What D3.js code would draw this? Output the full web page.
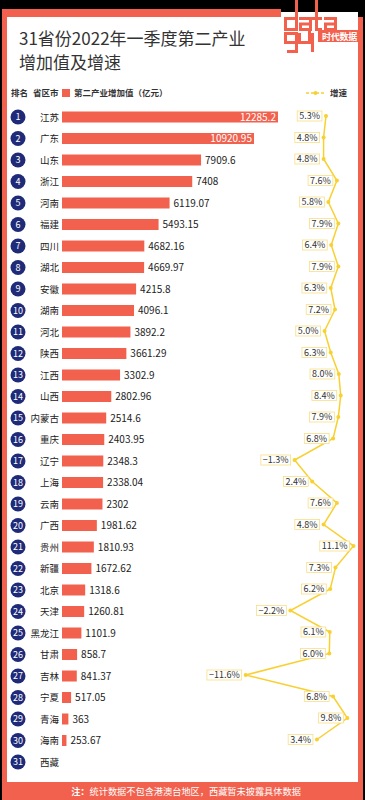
<!DOCTYPE html>
<html><head><meta charset="utf-8">
<script src="https://cdn.jsdelivr.net/npm/d3@7/dist/d3.min.js"></script>
<style>body{margin:0;background:#000}svg{display:block}text{font-family:"Noto Sans CJK SC","Noto Sans",sans-serif}</style>
</head><body>
<script>
const ranks = d3.range(1, 32);
const provinces = ["江苏","广东","山东","浙江","河南","福建","四川","湖北","安徽","湖南","河北","陕西","江西","山西","内蒙古","重庆","辽宁","上海","云南","广西","贵州","新疆","北京","天津","黑龙江","甘肃","吉林","宁夏","青海","海南","西藏"];
const values = [12285.2,10920.95,7909.6,7408,6119.07,5493.15,4682.16,4669.97,4215.8,4096.1,3892.2,3661.29,3302.9,2802.96,2514.6,2403.95,2348.3,2338.04,2302,1981.62,1810.93,1672.62,1318.6,1260.81,1101.9,858.7,841.37,517.05,363,253.67,null];
const valueLabels = ["12285.2","10920.95","7909.6","7408","6119.07","5493.15","4682.16","4669.97","4215.8","4096.1","3892.2","3661.29","3302.9","2802.96","2514.6","2403.95","2348.3","2338.04","2302","1981.62","1810.93","1672.62","1318.6","1260.81","1101.9","858.7","841.37","517.05","363","253.67",""];
const growth = [5.3,4.8,4.8,7.6,5.8,7.9,6.4,7.9,6.3,7.2,5.0,6.3,8.0,8.4,7.9,6.8,-1.3,2.4,7.6,4.8,11.1,7.3,6.2,-2.2,6.1,6.0,-11.6,6.8,9.8,3.4,null];
const titleLines = ["31省份2022年一季度第二产业","增加值及增速"];
const footnote = ["注：","统计数据不包含港澳台地区，西藏暂未披露具体数据"];

const W = 365, H = 800;
const coral = "#f1614d", navy = "#1f2b78", yellow = "#f8d030";

const svg = d3.select("body").append("svg").attr("width", W).attr("height", H);

// frame
svg.append("rect").attr("width", W).attr("height", H).attr("fill", "#000");
svg.append("rect").attr("x", 2).attr("y", 9).attr("width", 361).attr("height", 791).attr("fill", coral);
svg.append("rect").attr("x", 7).attr("y", 17).attr("width", 351).attr("height", 765).attr("fill", "#fff");

// logo
svg.append("rect").attr("x", 281).attr("y", 9).attr("width", 84).attr("height", 8).attr("fill", "#000");
svg.append("rect").attr("x", 281).attr("y", 12).attr("width", 77).attr("height", 44).attr("fill", "#fff");
const logo = svg.append("g").attr("fill", "none").attr("stroke", coral).attr("stroke-width", 3);
logo.append("path").attr("d", "M284,18.5 H296 M285.5,18 V29.5 H296 M296.5,0 V31");
logo.append("path").attr("d", "M299,18.5 H310.5 V29.5 H300.5 V24 H310");
logo.append("path").attr("d", "M316.5,0 V29.5 H322 M311,18.5 H322");
logo.append("path").attr("d", "M324,18.5 H335.5 V29.5 H325.5 V24 H335");
logo.append("path").attr("d", "M285.5,33 V42.5 H296 M284,33.5 H296.5 V51.5 H287");
logo.append("path").attr("d", "M299.5,33 V42.5 H309.5 M309.5,30 V44");
logo.append("path").attr("d", "M312.5,33 V52");
svg.append("rect").attr("x", 318).attr("y", 30).attr("width", 43).attr("height", 12).attr("fill", coral);
svg.append("text").attr("x", 339.5).attr("y", 39.5).attr("text-anchor", "middle").attr("fill", "#fff")
  .attr("font-size", 9).attr("font-weight", 700).attr("letter-spacing", -0.3).text("时代数据");

// title
svg.append("g").selectAll("text").data(titleLines).join("text")
  .attr("font-size", 17).attr("fill", "#333")
  .attr("x", 19).attr("y", (d, i) => 44.5 + i * 24.8).text(d => d);

// legend
const lg = svg.append("g").attr("font-size", 8.5).attr("font-weight", 700).attr("fill", "#333");
lg.append("text").attr("x", 11).attr("y", 96).text("排名");
lg.append("text").attr("x", 33).attr("y", 96).text("省区市");
lg.append("rect").attr("x", 62).attr("y", 89).attr("width", 8).attr("height", 8).attr("fill", coral);
lg.append("text").attr("x", 74).attr("y", 96).text("第二产业增加值（亿元）");
lg.append("line").attr("x1", 306).attr("x2", 325).attr("y1", 93).attr("y2", 93)
  .attr("stroke", yellow).attr("stroke-width", 1.5).attr("stroke-dasharray", "3,2");
lg.append("circle").attr("cx", 315.5).attr("cy", 93).attr("r", 2).attr("fill", yellow);
lg.append("text").attr("x", 330).attr("y", 96).text("增速");

// scales
const y = d3.scalePoint().domain(provinces).range([117, 762]);
const x = d3.scaleLinear().domain([0, 13000]).range([62, 62 + 13000 * 0.01758]);
const gx = d3.scaleLinear().domain([-12, 12]).range([243.8, 357.8]);

const rows = provinces.map((p, i) => ({p, i, rank: ranks[i], v: values[i], lab: valueLabels[i], g: growth[i]}));

// rank circles
const rk = svg.append("g");
rk.selectAll("circle").data(rows).join("circle")
  .attr("cx", 18).attr("cy", d => y(d.p)).attr("r", 7.5).attr("fill", navy);
rk.selectAll("text").data(rows).join("text")
  .attr("x", 18).attr("y", d => y(d.p) + 3.2).attr("text-anchor", "middle")
  .attr("fill", "#fff").attr("font-size", 9).text(d => d.rank);

// names
svg.append("g").selectAll("text").data(rows).join("text")
  .attr("x", 59).attr("y", d => y(d.p) + 3.5).attr("text-anchor", "end")
  .attr("font-size", 9.5).attr("fill", "#222").text(d => d.p);

// bars
const bv = rows.filter(d => d.v != null);
svg.append("g").selectAll("rect").data(bv).join("rect")
  .attr("x", x(0)).attr("y", d => y(d.p) - 5.5).attr("height", 11)
  .attr("width", d => x(d.v) - x(0)).attr("fill", coral);
svg.append("g").selectAll("text").data(bv).join("text")
  .attr("x", d => d.v > 10000 ? x(d.v) - 2 : x(d.v) + 4)
  .attr("y", d => y(d.p) + 3.6)
  .attr("text-anchor", d => d.v > 10000 ? "end" : "start")
  .attr("fill", d => d.v > 10000 ? "#fff" : "#222")
  .attr("font-size", 10).text(d => d.lab);

// growth line
const gv = rows.filter(d => d.g != null);
const line = d3.line().x(d => gx(d.g)).y(d => y(d.p) - 1);
svg.append("path").datum(gv).attr("d", line).attr("fill", "none")
  .attr("stroke", yellow).attr("stroke-width", 1.5);

const fmt = v => (v < 0 ? "−" : "") + Math.abs(v).toFixed(1) + "%";
const gl = svg.append("g").selectAll("g").data(gv).join("g")
  .attr("transform", d => `translate(${gx(d.g)},${y(d.p) - 1})`);
gl.append("text").attr("x", -6).attr("y", 3.2).attr("text-anchor", "end")
  .attr("font-size", 9).attr("fill", "#333").text(d => fmt(d.g));
gl.each(function() {
  const g = d3.select(this);
  const bb = g.select("text").node().getBBox();
  g.insert("rect", "text").attr("x", bb.x - 2).attr("y", -5).attr("width", bb.width + 4).attr("height", 10)
    .attr("fill", "#fff").attr("stroke", "#f8df86").attr("stroke-width", 0.8);
});
gl.append("circle").attr("r", 2).attr("fill", yellow);

// footnote
const ft = svg.append("text").attr("x", 186).attr("y", 795).attr("text-anchor", "middle")
  .attr("fill", "#fff").attr("font-size", 9.2);
ft.append("tspan").attr("font-weight", 700).text(footnote[0]);
ft.append("tspan").text(footnote[1]);
</script>
</body></html>
